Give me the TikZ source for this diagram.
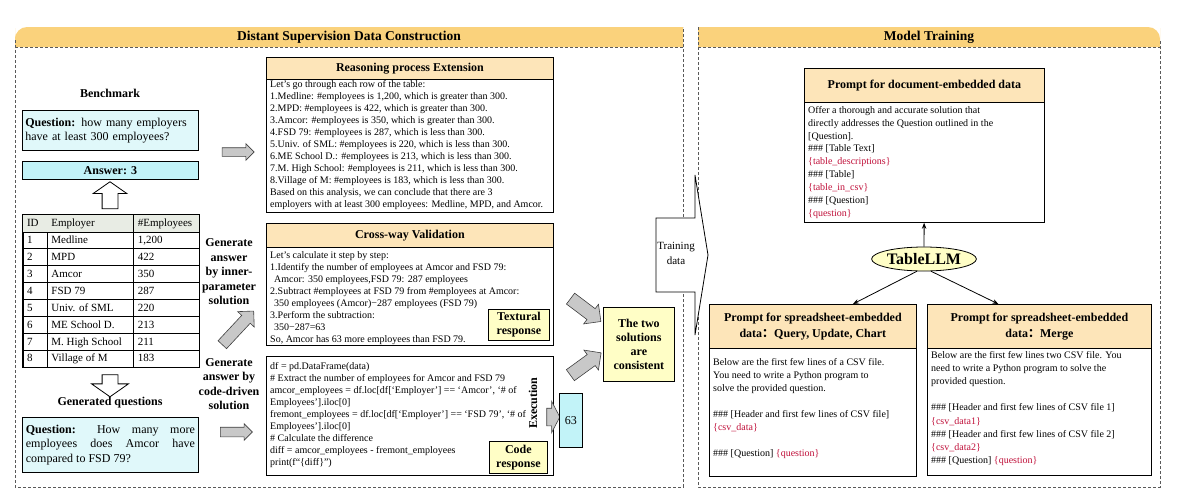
\documentclass[tikz,border=0pt]{standalone}
\usepackage{fontspec}
\setmainfont{Liberation Serif}
\newfontfamily\cjk{Noto Sans CJK SC}
\usepackage{array,colortbl}
\usetikzlibrary{shapes.arrows,shapes.geometric,arrows.meta}

\definecolor{bandorange}{HTML}{FAD27C}
\definecolor{headpeach}{HTML}{FDE5B9}
\definecolor{qcyan}{HTML}{E0F8FA}
\definecolor{acyan}{HTML}{C2F3F8}
\definecolor{noteyellow}{HTML}{FFFEC6}
\definecolor{rowgray}{HTML}{E8ECE4}
\definecolor{phred}{HTML}{C0103A}
\definecolor{arrowgray}{HTML}{C8C8C8}

\newcommand{\ph}[1]{\textcolor{phred}{#1}}

\tikzset{
  panel/.style={densely dashed, draw=black!65, line width=0.6pt},
  paneltitle/.style={font=\bfseries\fontsize{13.5}{16}\selectfont},
  frame/.style={draw, line width=0.8pt, fill=white, inner sep=0, anchor=north west},
  headbox/.style={frame, fill=headpeach, align=center, font=\bfseries\fontsize{12}{16}\selectfont},
  bodytext/.style={anchor=north west, inner sep=0, align=left, font=\fontsize{10}{12}\selectfont},
  boldlabel/.style={align=center, font=\bfseries\fontsize{12}{14.5}\selectfont},
  notebox/.style={frame, fill=noteyellow, align=center, font=\bfseries\fontsize{12}{14}\selectfont},
  grayarrow/.style={single arrow, draw=black!75, fill=arrowgray, line width=0.6pt, inner xsep=0, single arrow tip angle=90},
  hollowarrow/.style={single arrow, draw, fill=white, line width=0.8pt, inner xsep=0, single arrow tip angle=110},
  arr/.style={-{Stealth[length=6pt,width=4.5pt]}, line width=0.8pt},
}

\begin{document}
\begin{tikzpicture}[x=1pt,y=-1pt]
\useasboundingbox (0,0) rectangle (1185,501);

% left panel
\fill[bandorange] (349,27) [rounded corners=12] -- (15,27) -- (15,40) [sharp corners] -- (15,47) -- (683,47) -- (683,27) -- cycle;
\draw[panel] (15,40) -- (15,487) -- (683,487) -- (683,27);
\draw[panel] (15,47) -- (683,47);
\node[paneltitle] (dsdc) at (349,37) {Distant Supervision Data Construction};

% right panel
\fill[bandorange] (929,27) [rounded corners=12] -- (1160,27) -- (1160,40) [sharp corners] -- (1160,47) -- (698,47) -- (698,27) -- cycle;
\draw[panel] (698,27) -- (698,487) -- (1160,487) -- (1160,40);
\draw[panel] (698,47) -- (1160,47);
\node[paneltitle] (mt) at (929,37) {Model Training};

% benchmark column
\node[boldlabel] (bench) at (110,93) {Benchmark};
\node[frame, fill=qcyan, minimum width=176, minimum height=40, text width=170, align=left,
  font=\fontsize{12}{14.5}\selectfont] (q1) at (22,110)
  {\textbf{Question:} how many employers\\have at least 300 employees?};
\node[frame, fill=acyan, minimum width=176, minimum height=18, font=\bfseries\fontsize{12}{14}\selectfont] (ans) at (22,161) {Answer: 3};
\node[hollowarrow, rotate=90, minimum height=27, inner ysep=7.5, single arrow head extend=9] (up) at (110,198) {};

\node[draw, line width=1.2pt, inner sep=0, anchor=north west] (tab) at (22,214) {%
  \fontsize{11}{13}\selectfont\setlength{\tabcolsep}{4pt}%
  \begin{tabular}{|>{\rule[-4.8pt]{0pt}{16.5pt}}p{16pt}|p{78pt}|p{57pt}|}
  \hline
  \rowcolor{rowgray} ID & Employer & \#Employees\\ \hline
  1 & Medline & 1,200\\ \hline
  2 & MPD & 422\\ \hline
  3 & Amcor & 350\\ \hline
  4 & FSD 79 & 287\\ \hline
  5 & Univ. of SML & 220\\ \hline
  6 & ME School D. & 213\\ \hline
  7 & M. High School & 211\\ \hline
  8 & Village of M & 183\\ \hline
  \end{tabular}};

\node[hollowarrow, rotate=-90, minimum height=22, inner ysep=7.5, single arrow head extend=10.5] (down) at (110,383) {};
\node[boldlabel] (genq) at (110,403) {Generated questions};
\node[frame, fill=qcyan, minimum width=176, minimum height=55, text width=169, align=justify,
  font=\fontsize{12}{14.5}\selectfont] (q2) at (22,417)
  {\textbf{Question:} How many more\linebreak employees does Amcor have\linebreak compared to FSD 79?};

% solution labels and arrows
\node[boldlabel] (inner) at (229,272) {Generate\\answer\\by inner-\\parameter\\solution};
\node[boldlabel] (code) at (229,384) {Generate\\answer by\\code-driven\\solution};
\node[grayarrow, minimum height=32, inner ysep=4, single arrow head extend=4] (a1) at (236,152) {};
\node[grayarrow, rotate=47, minimum height=46, inner ysep=5.5, single arrow head extend=5.5] (a2) at (236,330) {};
\node[grayarrow, minimum height=32, inner ysep=4.5, single arrow head extend=3.5] (a3) at (234,432) {};

% reasoning process extension
\node[frame, minimum width=287, minimum height=155] (rpe) at (266,57) {};
\node[headbox, minimum width=287, minimum height=22] (rpe-t) at (266,57) {Reasoning process Extension};
\node[bodytext] (rpe-b) at (270,80.5) {Let's go through each row of the table:\\
1.Medline: \#employees is 1,200, which is greater than 300.\\
2.MPD: \#employees is 422, which is greater than 300.\\
3.Amcor: \#employees is 350, which is greater than 300.\\
4.FSD 79: \#employees is 287, which is less than 300.\\
5.Univ. of SML: \#employees is 220, which is less than 300.\\
6.ME School D.: \#employees is 213, which is less than 300.\\
7.M. High School: \#employees is 211, which is less than 300.\\
8.Village of M: \#employees is 183, which is less than 300.\\
Based on this analysis, we can conclude that there are 3\\
employers with at least 300 employees: Medline, MPD, and Amcor.};

% cross-way validation
\node[frame, minimum width=287, minimum height=122] (cwv) at (266,223) {};
\node[headbox, minimum width=287, minimum height=24] (cwv-t) at (266,223) {Cross-way Validation};
\node[bodytext] (cwv-b) at (270,251) {Let's calculate it step by step:\\
1.Identify the number of employees at Amcor and FSD 79:\\
\hspace*{4pt}Amcor: 350 employees,FSD 79: 287 employees\\
2.Subtract \#employees at FSD 79 from \#employees at Amcor:\\
\hspace*{4pt}350 employees (Amcor)−287 employees (FSD 79)\\
3.Perform the subtraction:\\
\hspace*{4pt}350−287=63\\
So, Amcor has 63 more employees than FSD 79.};
\node[notebox, minimum width=61, minimum height=31] (txr) at (488,309) {Textural\\response};

% code-driven solution
\node[frame, minimum width=287, minimum height=119] (cds) at (266,356) {};
\node[bodytext] (cds-b) at (270,362) {df = pd.DataFrame(data)\\
\# Extract the number of employees for Amcor and FSD 79\\
amcor\_employees = df.loc[df[`Employer'] == `Amcor', `\# of\\
Employees'].iloc[0]\\
fremont\_employees = df.loc[df[`Employer'] == `FSD 79', `\# of\\
Employees'].iloc[0]\\
\# Calculate the difference\\
diff = amcor\_employees - fremont\_employees\\
print(f``\{diff\}'')};
\node[notebox, minimum width=58, minimum height=32] (cdr) at (489,441) {Code\\response};
\node[boldlabel, rotate=90] (exec) at (533,403) {Execution};
\node[grayarrow, minimum height=13, inner ysep=8.5, single arrow head extend=7, single arrow tip angle=125] (a4) at (551,417) {};
\node[frame, fill=acyan, minimum width=23, minimum height=54, font=\fontsize{12}{14}\selectfont] (res) at (559,393) {63};

% consistency check
\node[grayarrow, rotate=-37, minimum height=38, inner ysep=6.5, single arrow head extend=5.5] (a5) at (583,308) {};
\node[grayarrow, rotate=36, minimum height=38, inner ysep=6.5, single arrow head extend=5.5] (a6) at (583,366) {};
\node[notebox, minimum width=71, minimum height=74] (cons) at (603,307) {The two\\solutions\\are\\consistent};

% training data arrow
\draw[fill=white, line width=0.8pt] (656,218) -- (695,218) -- (695,175) -- (708,255) -- (695,335) -- (695,292) -- (656,292) -- cycle;
\node[align=center, font=\fontsize{11}{15}\selectfont] (train) at (676,253) {Training\\data};

% prompts
\node[frame, minimum width=240, minimum height=154] (doc) at (804,68) {};
\node[headbox, minimum width=240, minimum height=34] (doc-t) at (804,68) {Prompt for document-embedded data};
\node[bodytext, font=\fontsize{10}{12.9}\selectfont] (doc-b) at (808,106) {Offer a thorough and accurate solution that\\
directly addresses the Question outlined in the\\
{}[Question].\\
\#\#\# [Table Text]\\
\ph{\{table\_descriptions\}}\\
\#\#\# [Table]\\
\ph{\{table\_in\_csv\}}\\
\#\#\# [Question]\\
\ph{\{question\}}};

\node[ellipse, draw, fill=noteyellow, line width=0.8pt, minimum width=99, minimum height=24, inner sep=0,
  font=\bfseries\fontsize{16}{18}\selectfont] (llm) at (924,259) {TableLLM};

\node[frame, minimum width=207, minimum height=172] (sl) at (709,304) {};
\node[headbox, minimum width=207, minimum height=44] (sl-t) at (709,304) {Prompt for spreadsheet-embedded\\data{\cjk ：}Query, Update, Chart};
\node[bodytext, font=\fontsize{10}{13}\selectfont] (sl-b) at (713,358) {Below are the first few lines of a CSV file.\\
You need to write a Python program to\\
solve the provided question.\\[13pt]
\#\#\# [Header and first few lines of CSV file]\\
\ph{\{csv\_data\}}\\[13pt]
\#\#\# [Question] \ph{\{question\}}};

\node[frame, minimum width=224, minimum height=171] (sr) at (927,304) {};
\node[headbox, minimum width=224, minimum height=44] (sr-t) at (927,304) {Prompt for spreadsheet-embedded\\data{\cjk ：}Merge};
\node[bodytext, font=\fontsize{10}{13.2}\selectfont] (sr-b) at (931,351) {Below are the first few lines two CSV file. You\\
need to write a Python program to solve the\\
provided question.\\[13pt]
\#\#\# [Header and first few lines of CSV file 1]\\
\ph{\{csv\_data1\}}\\
\#\#\# [Header and first few lines of CSV file 2]\\
\ph{\{csv\_data2\}}\\
\#\#\# [Question] \ph{\{question\}}};

\draw[arr] (llm) -- (doc);
\draw[arr] (llm.240) -- ([xshift=40]sl-t.north);
\draw[arr] (llm.300) -- ([xshift=-41]sr-t.north);

\end{tikzpicture}
\end{document}
